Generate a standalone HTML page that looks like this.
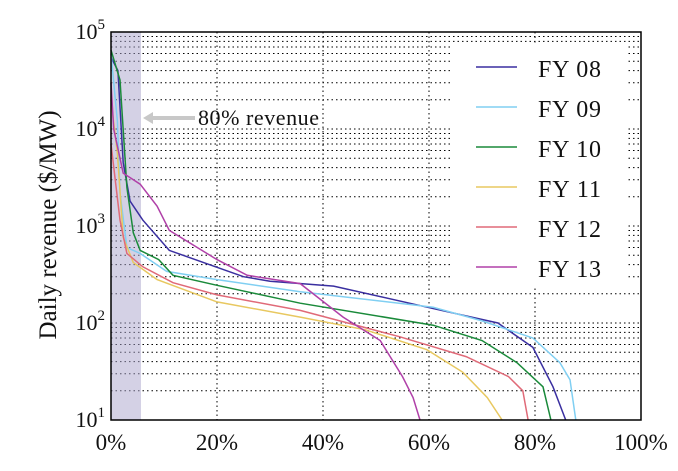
<!DOCTYPE html>
<html><head><meta charset="utf-8"><style>
body{margin:0;background:#fff;}
svg text{font-family:"Liberation Serif",serif;fill:#111;}
</style></head><body>
<svg id="chart" width="678" height="466" xmlns="http://www.w3.org/2000/svg">
<g id="grid"></g>
<rect x="111" y="32" width="30" height="388" fill="#a9a3cc" opacity="0.5"/>
<g id="series"></g>
<g>
<line x1="195" y1="118" x2="150" y2="118" stroke="#c8c8c8" stroke-width="4"/>
<polygon points="143,118 153,112 153,124" fill="#c8c8c8"/>
<text x="198" y="125" font-size="22" textLength="121">80% revenue</text>
</g>
<g id="legend"></g>
<rect x="111" y="32" width="530" height="388" fill="none" stroke="#000" stroke-width="1.5"/>
<g id="axes"></g>
<text transform="translate(56,225) rotate(-90)" text-anchor="middle" font-size="25">Daily revenue ($/MW)</text>
</svg>
<script>
const xTicks=[0,20,40,60,80,100];
const yDecades=[1,2,3,4,5];
const seriesNames=["FY 08","FY 09","FY 10","FY 11","FY 12","FY 13"];
const colors=["#3a2fa0","#80cff2","#1a8a3a","#e8c860","#e06a78","#b040a8"];
const pct08=[0,1.3,2.3,3.6,6,11,20,25,30,42,61,73,79.6,83.4,85.8];
const val08=[55000,40000,4500,1800,1150,560,375,300,270,240,140,100,56,22,10];
const pct09=[0,1.2,1.7,3,5.5,10.5,20,35.7,60.8,70,79.6,84.7,86.6,87.7];
const val09=[60000,12000,2200,600,520,340,280,210,145,105,70,39,26,10];
const pct10=[0,1.7,3,4.2,5.5,9,11.7,20,35.7,60.8,70,76.6,81.5,83];
const val10=[65000,32000,2500,850,560,450,310,245,160,95,66,39,22,10];
const pct11=[0,1.2,2.3,4.2,8.7,20,35.7,48,59.6,66.4,71,73.8];
const val11=[20000,5600,760,420,280,165,115,85,53,31,17,10];
const pct12=[0,1.7,3,6,11.7,20,35.7,54.5,67,75,77.7,78.7];
const val12=[7000,1150,520,380,260,195,135,72,45,28,20,10];
const pct13=[0,0.5,2.3,5.5,8.7,11,20,25.7,35.7,43.8,50.8,55,57,58.3];
const val13=[30000,10000,3500,2700,1600,900,450,310,255,115,66,28,17,10];
const allPct=[pct08,pct09,pct10,pct11,pct12,pct13];
const allVal=[val08,val09,val10,val11,val12,val13];

const L=111,R=641,T=32,B=420;
const xs=p=>L+p/100*(R-L);
const ys=v=>B-(Math.log10(v)-1)/4*(B-T);
const NS="http://www.w3.org/2000/svg";
function mk(tag,attrs,parent){const e=document.createElementNS(NS,tag);for(const k in attrs)e.setAttribute(k,attrs[k]);parent.appendChild(e);return e;}
const grid=document.getElementById('grid'),axes=document.getElementById('axes');
xTicks.forEach(t=>{
  const x=xs(t);
  if(t>0&&t<100){const g=mk('line',{x1:x,x2:x,y1:T,y2:B,stroke:'#000','stroke-width':1,'stroke-dasharray':'1.5,3'},grid);
  
  }
  const tx=mk('text',{x:x,y:B+30,'text-anchor':'middle','font-size':23},axes);
  tx.textContent=t+'%';
  
  
});
for(let d=1;d<5;d++){for(let m=1;m<10;m++){
  const v=m*Math.pow(10,d);if(d===1&&m===1)continue;
  const y=ys(v);
  const g=mk('line',{x1:L,x2:R,y1:y,y2:y,stroke:'#000','stroke-width':1,'stroke-dasharray':'1.5,3'},grid);
  
  
}}
yDecades.forEach(d=>{
  const y=ys(Math.pow(10,d));
  const tx=mk('text',{x:L-6,y:y+7,'text-anchor':'end','font-size':22},axes);
  tx.innerHTML='10<tspan dy="-10" font-size="15">'+d+'</tspan>';
  
  
});
const sg=document.getElementById('series');
allPct.forEach((ps,i)=>{
  const pts=ps.map((p,j)=>xs(p).toFixed(1)+','+ys(allVal[i][j]).toFixed(1)).join(' ');
  const pl=mk('polyline',{points:pts,fill:'none',stroke:colors[i],'stroke-width':1.5},sg);
  
  
});
const lg=document.getElementById('legend');
const bg=mk('rect',{x:453,y:44,width:174,height:244,fill:'#fff'},lg);


seriesNames.forEach((n,i)=>{
  const y=67+i*40;
  const l=mk('line',{x1:476,x2:517,y1:y,y2:y,stroke:colors[i],'stroke-width':1.5},lg);
  
  
  const t=mk('text',{x:538,y:y+10,'font-size':24,textLength:63},lg);
  t.textContent=n;
  
  
});
</script>
</body></html>
